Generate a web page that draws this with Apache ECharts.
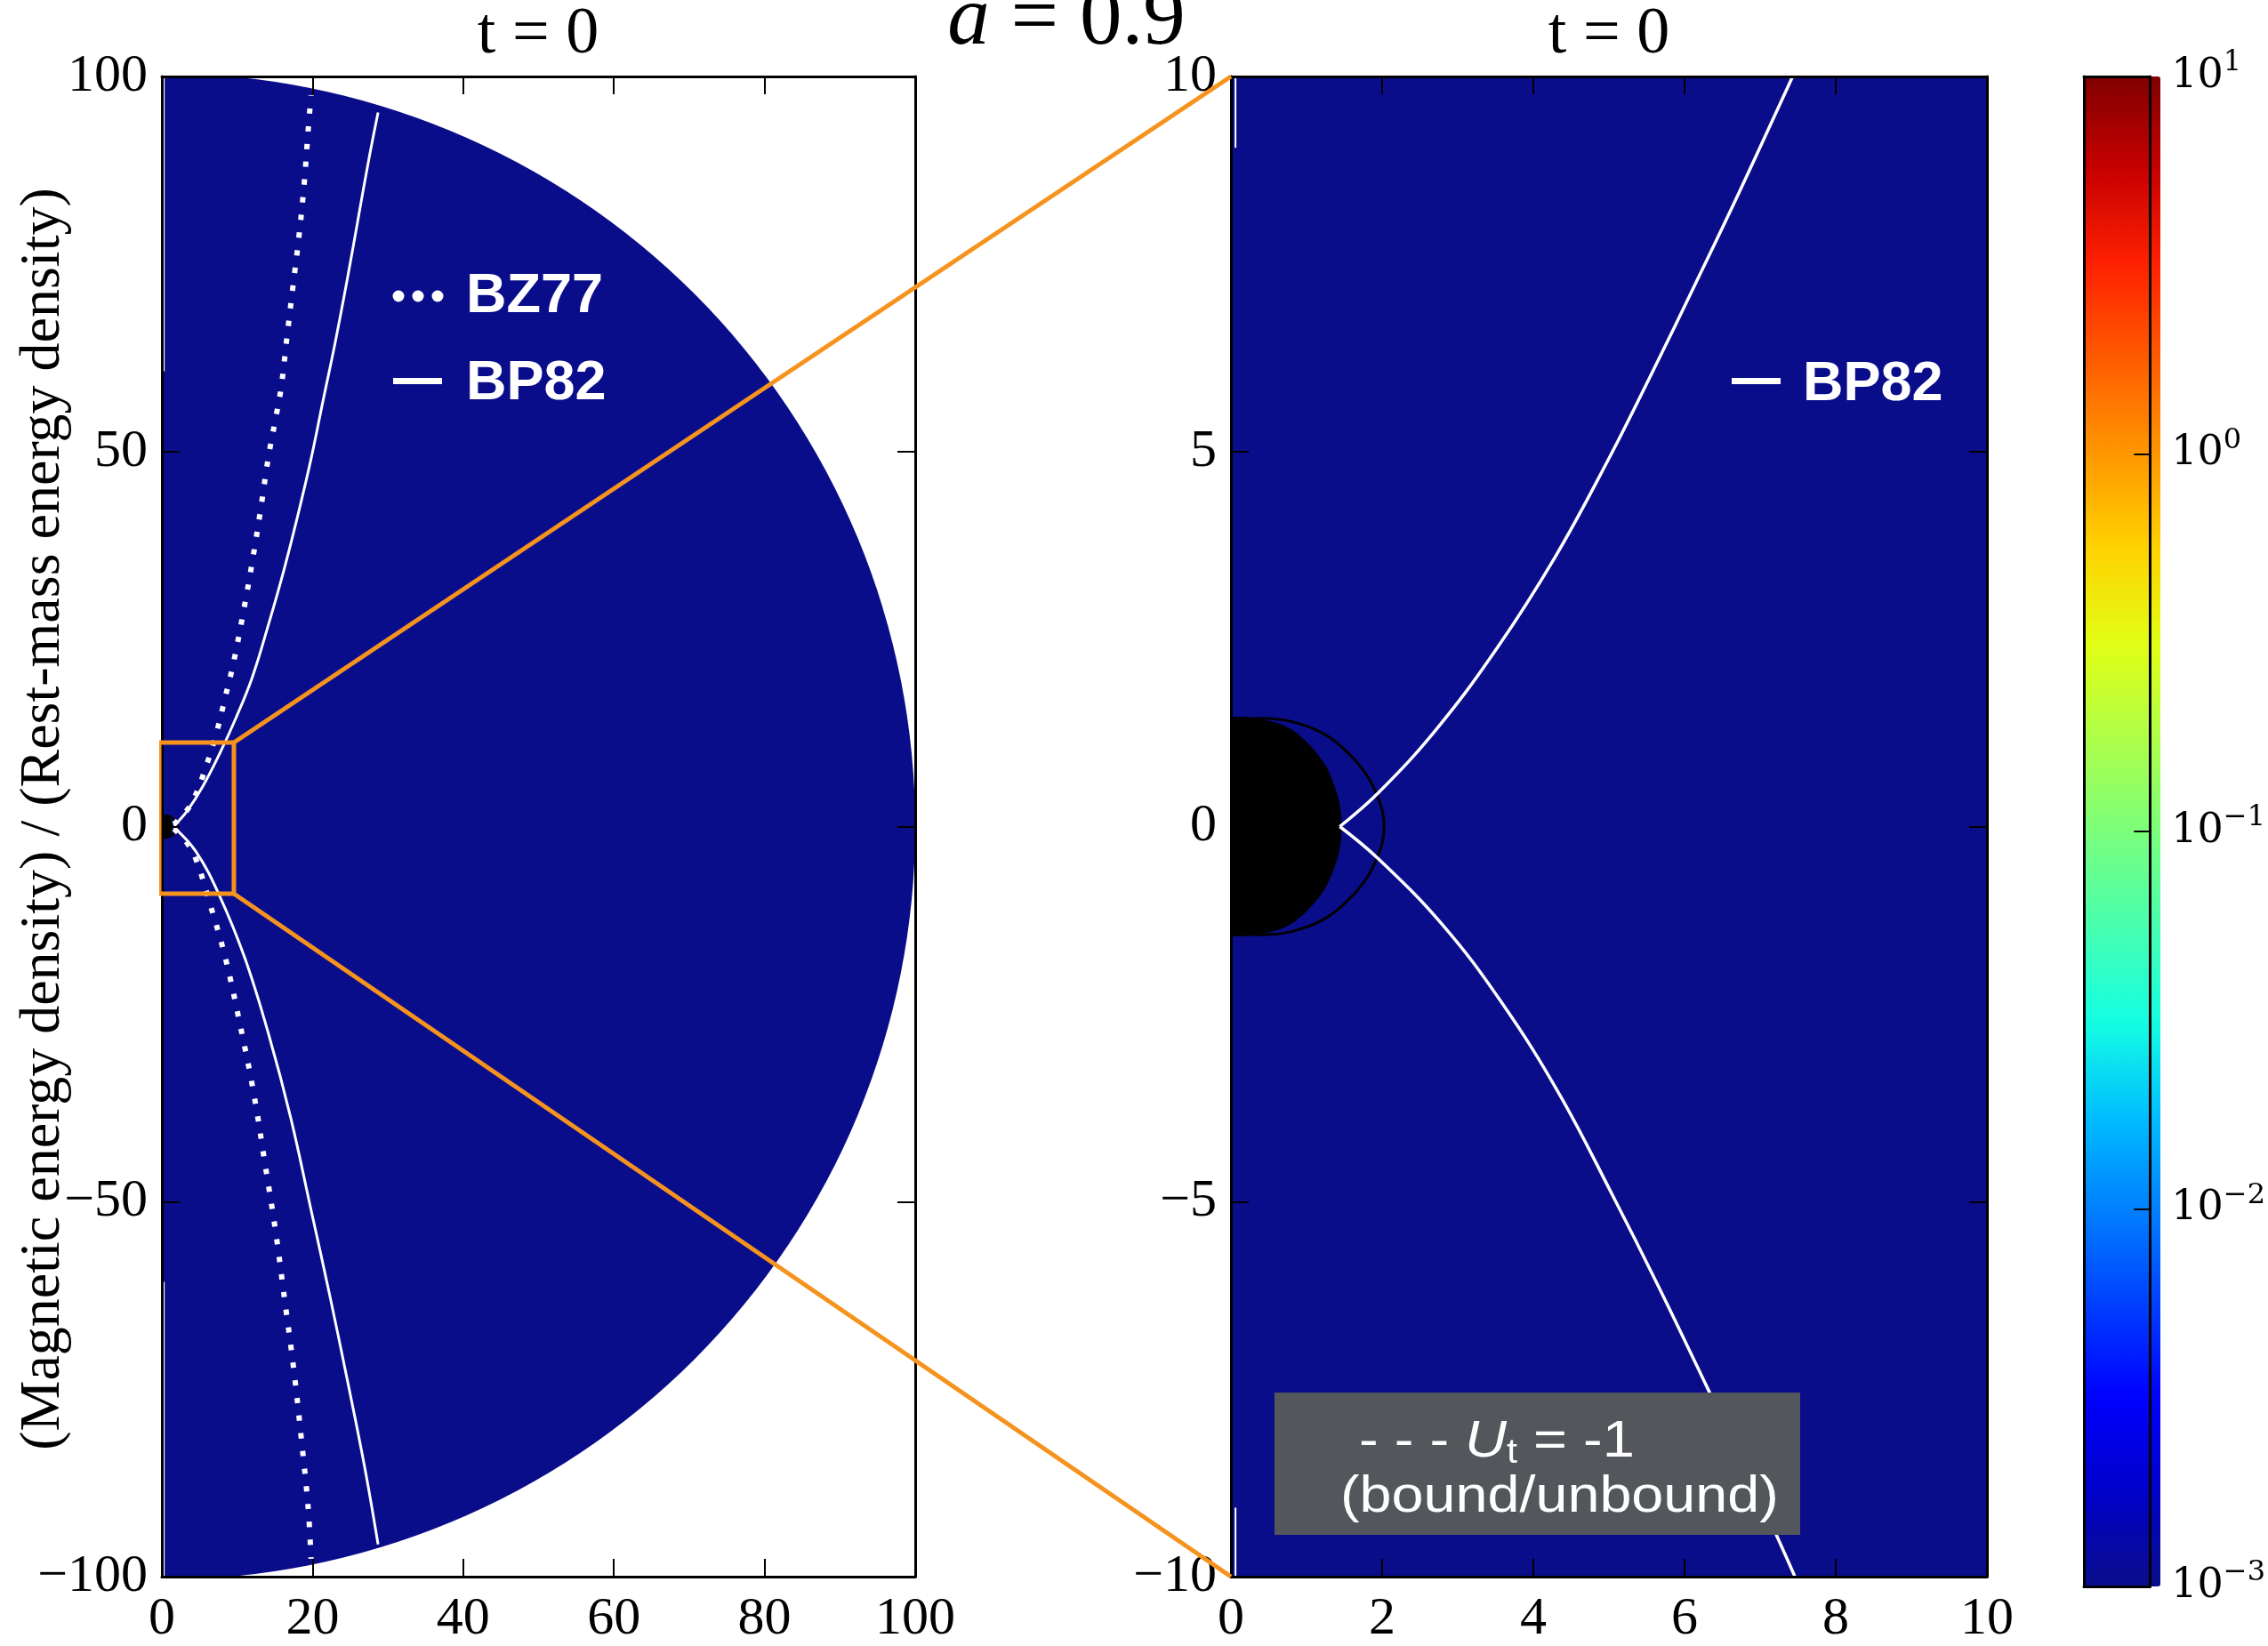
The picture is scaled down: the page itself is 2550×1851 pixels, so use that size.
<!DOCTYPE html>
<html><head><meta charset="utf-8">
<script src="https://cdn.jsdelivr.net/npm/echarts@6/dist/echarts.min.js"></script>
<style>html,body{margin:0;padding:0;background:#fff}#c{width:2550px;height:1851px}</style>
</head><body><div id="c"></div>
<script>
// ---------------- data ----------------
const titleMain = 'a = 0.9';
const panelTitles = ['t = 0', 't = 0'];
const yAxisTitle = '(Magnetic energy density) / (Rest-mass energy density)';
const legendLeft = ['BZ77', 'BP82'];
const legendRight = ['BP82'];
const boxLine1 = ['- - - ', 'U', 't', ' = -1'];
const boxLine2 = '(bound/unbound)';

// simulation domain: [outer radius, log10(value)]
const domainLeft = [[100, -3]];
const domainRight = [[100, -3]];
const colorbarTicks = [-3, -2, -1, 0, 1];

// BZ77 paraboloidal field line (left panel, dotted)
const bz77Upper = [[1.6,0.3],[3.2,2.0],[4.3,3.8],[5.9,8.1],[7.3,12.7],[8.4,17.2],[9.5,21.8],[10.8,28.5],[12.0,35.3],[13.1,42.2],[14.1,49.0],[15.0,53.9],[15.8,58.3],[16.6,65.2],[17.4,72.0],[18.2,78.7],[18.9,85.8],[19.4,92.6],[19.8,97.5]];
const bz77Lower = [[1.6,-0.3],[3.2,-2.0],[4.5,-4.3],[6.5,-10.7],[8.4,-17.4],[10.4,-26.5],[12.2,-35.6],[13.7,-45.0],[15.1,-54.0],[16.3,-63.1],[17.5,-72.3],[18.5,-81.5],[19.4,-90.6],[19.8,-97.6]];
// BP82 field line (left panel)
const bp82LeftUpper = [[1.6,0.1],[3.3,2.0],[5.4,5.3],[7.8,10.0],[9.8,14.4],[12.0,19.9],[14.2,27.1],[16.2,34.2],[18.0,41.3],[19.8,49.0],[21.4,56.8],[23.0,64.5],[24.6,72.9],[26.1,81.3],[27.5,89.1],[28.7,95.2]];
const bp82LeftLower = [[1.6,-0.1],[4.5,-3.3],[7.6,-9.1],[11.0,-17.5],[14.2,-27.8],[17.1,-38.8],[19.8,-51.1],[22.2,-62.1],[24.6,-73.7],[26.9,-85.3],[28.7,-95.7]];
// BP82 field line (right panel, zoom)
const bp82RightUpper = [[1.44,0.0],[1.95,0.45],[2.72,1.3],[3.52,2.38],[4.28,3.58],[4.98,4.87],[5.57,6.05],[6.15,7.25],[6.72,8.45],[7.43,10.0]];
const bp82RightLower = [[1.44,0.0],[1.95,-0.43],[2.79,-1.30],[3.57,-2.33],[4.34,-3.56],[5.05,-4.92],[5.66,-6.14],[6.31,-7.5],[6.95,-8.86],[7.46,-10.0]];
// black region inside the horizon
const horizonFill = [[0,1.433],[0.385,1.433],[0.65,1.37],[0.83,1.276],[0.99,1.14],[1.12,1.0],[1.25,0.82],[1.345,0.61],[1.41,0.42],[1.44,0.29],[1.46,0.14],[1.465,0],[1.46,-0.14],[1.44,-0.29],[1.41,-0.42],[1.345,-0.61],[1.25,-0.82],[1.12,-1.0],[0.99,-1.14],[0.83,-1.276],[0.65,-1.37],[0.385,-1.433],[0,-1.433]];
// ergosphere outline
const ergosphere = [[0,1.436],[0.2,1.44],[0.387,1.443],[0.80,1.40],[1.22,1.24],[1.55,0.98],[1.78,0.71],[1.92,0.45],[2.0,0.22],[2.026,0],[2.0,-0.22],[1.92,-0.45],[1.78,-0.71],[1.55,-0.98],[1.22,-1.24],[0.80,-1.40],[0.387,-1.443],[0.2,-1.44],[0,-1.436]];
// zoom box drawn on the left panel and the corners it maps to on the right panel
const zoomBox = [[-0.35,11.2],[9.56,11.2],[9.56,-8.95],[-0.35,-8.95],[-0.35,11.2]];
const zoomTargets = [[0,10],[0,-10]];
// thin white gaps along the axis
const gapsLeft = [[[0.25,100],[0.25,60.7]],[[0.25,-60.7],[0.25,-100]]];
const gapsRight = [[[0.06,10],[0.06,9.05]],[[0.06,-9.08],[0.06,-10]]];

// jet colormap
const JET = ['#0a0d8a','#0000c8','#0000ff','#0040ff','#0080ff','#00bfff','#15ffe2','#48ffaf','#7bff7b','#afff48','#e2ff15','#ffd200','#ff9700','#ff5c00','#ff2100','#c80000','#800000'];

// ---------------- chart ----------------
const chart = echarts.init(document.getElementById('c'), null, {renderer:'canvas'});
const SERIF = 'Liberation Serif';
const SANS = 'Liberation Sans';
const ORANGE = '#f5931e';
const minus = v => (v < 0 ? '\u2212' + Math.abs(v) : String(v));

const G = [
  {left:182, top:86, width:847, height:1698},
  {left:1384, top:86, width:850, height:1698},
  {left:2343, top:86, width:86, height:1698}
];

function frameAxis(base, opts){
  return Object.assign({
    type:'value', z:5,
    axisLine:{show:true, onZero:false, lineStyle:{color:'#000', width:3}},
    axisTick:{show:true, inside:true, length:20, lineStyle:{color:'#000', width:2}},
    splitLine:{show:false},
    axisLabel:{show:false}
  }, base, opts || {});
}
const labelStyle = {show:true, fontFamily:SERIF, fontSize:60, color:'#000', formatter:minus, showMinLabel:true, showMaxLabel:true};

const xAxis = [
  frameAxis({gridIndex:0, min:0, max:100, interval:20, position:'bottom', axisLabel:Object.assign({margin:18}, labelStyle)}),
  frameAxis({gridIndex:0, min:0, max:100, interval:20, position:'top'}),
  frameAxis({gridIndex:1, min:0, max:10, interval:2, position:'bottom', axisLabel:Object.assign({margin:18}, labelStyle)}),
  frameAxis({gridIndex:1, min:0, max:10, interval:2, position:'top'}),
  frameAxis({gridIndex:2, min:0, max:1, position:'bottom', axisTick:{show:false}}),
  frameAxis({gridIndex:2, min:0, max:1, position:'top', axisTick:{show:false}})
];
const yAxis = [
  frameAxis({gridIndex:0, min:-100, max:100, interval:50, position:'left', axisLabel:Object.assign({margin:16}, labelStyle)}),
  frameAxis({gridIndex:0, min:-100, max:100, interval:50, position:'right'}),
  frameAxis({gridIndex:1, min:-10, max:10, interval:5, position:'left', axisLabel:Object.assign({margin:16}, labelStyle)}),
  frameAxis({gridIndex:1, min:-10, max:10, interval:5, position:'right'}),
  frameAxis({gridIndex:2, min:-3, max:1, interval:1, position:'left', axisTick:{show:false}}),
  frameAxis({gridIndex:2, min:colorbarTicks[0], max:colorbarTicks[colorbarTicks.length-1], interval:1, position:'right',
    axisTick:{show:true, inside:true, length:18, lineStyle:{color:'#000', width:2}},
    axisLabel:{show:true, margin:24, showMinLabel:true, showMaxLabel:true,
      formatter: v => '{b|10}{s|' + (v < 0 ? '\u2212' + Math.abs(v) : v) + '}',
      rich:{
        b:{fontFamily:'DejaVu Serif', fontSize:46, lineHeight:62, color:'#000'},
        s:{fontFamily:'DejaVu Serif', fontSize:32, lineHeight:32, verticalAlign:'top', color:'#000'}
      }}})
];

function renderDomain(params, api){
  const c = api.coord([0,0]);
  const e = api.coord([api.value(0),0]);
  return {type:'sector', shape:{cx:c[0], cy:c[1], r0:0, r:e[0]-c[0], startAngle:-Math.PI/2, endAngle:Math.PI/2, clockwise:true},
    style:{fill:api.visual('color')}};
}
function polyRenderer(points, fill){
  return function(params, api){
    return {type:'polygon', shape:{points:points.map(p => api.coord(p)), smooth:0.2}, style:{fill:fill}};
  };
}
function lineSeries(ax, data, color, width, extra){
  return Object.assign({type:'line', xAxisIndex:ax, yAxisIndex:ax, data:data, symbol:'none', showSymbol:false,
    smooth:0.4, clip:true, silent:true, z:4, lineStyle:{color:color, width:width}}, extra || {});
}

const series = [
  {type:'custom', xAxisIndex:0, yAxisIndex:0, data:domainLeft, renderItem:renderDomain, clip:true, z:1, silent:true},
  {type:'custom', xAxisIndex:2, yAxisIndex:2, data:domainRight, renderItem:renderDomain, clip:true, z:1, silent:true},
  // left panel
  {type:'custom', xAxisIndex:0, yAxisIndex:0, data:[0], renderItem:polyRenderer(horizonFill,'#000'), clip:true, z:3, silent:true},
  lineSeries(0, ergosphere, '#000', 3, {z:3}),
  lineSeries(0, gapsLeft[0], '#fff', 2, {smooth:false}),
  lineSeries(0, gapsLeft[1], '#fff', 2, {smooth:false}),
  lineSeries(0, bz77Upper, '#fff', 6, {lineStyle:{color:'#fff', width:6, type:[6,14], cap:'butt'}}),
  lineSeries(0, bz77Lower, '#fff', 6, {lineStyle:{color:'#fff', width:6, type:[6,14], cap:'butt'}}),
  lineSeries(0, bp82LeftUpper, '#fff', 3),
  lineSeries(0, bp82LeftLower, '#fff', 3),
  lineSeries(0, zoomBox, ORANGE, 5, {smooth:false, clip:false, z:10}),
  // right panel
  {type:'custom', xAxisIndex:2, yAxisIndex:2, data:[0], renderItem:polyRenderer(horizonFill,'#000'), clip:true, z:3, silent:true},
  lineSeries(2, ergosphere, '#000', 3, {z:3}),
  lineSeries(2, gapsRight[0], '#fff', 2, {smooth:false}),
  lineSeries(2, gapsRight[1], '#fff', 2, {smooth:false}),
  lineSeries(2, bp82RightUpper, '#fff', 3.5),
  lineSeries(2, bp82RightLower, '#fff', 3.5)
];

chart.setOption({
  backgroundColor:'#fff',
  animation:false,
  grid:G,
  xAxis:xAxis,
  yAxis:yAxis,
  visualMap:{type:'continuous', min:-3, max:1, dimension:1, seriesIndex:[0,1], inRange:{color:JET},
    left:2343, top:86, itemWidth:86, itemHeight:1698, padding:0, calculable:false, hoverLink:false, text:null, z:2},
  series:series
});

function txt(x, y, text, font, extra){
  return {type:'text', x:x, y:y, z:100, silent:true, style:Object.assign({text:text, font:font, fill:'#000',
    align:'center', verticalAlign:'middle', textAlign:'center', textVerticalAlign:'middle'}, extra || {})};
}
const c0 = chart.convertToPixel({gridIndex:0}, [zoomBox[1][0], zoomBox[1][1]]);
const c1 = chart.convertToPixel({gridIndex:0}, [zoomBox[2][0], zoomBox[2][1]]);
const t0 = chart.convertToPixel({gridIndex:1}, zoomTargets[0]);
const t1 = chart.convertToPixel({gridIndex:1}, zoomTargets[1]);

const graphic = [
  // main title (partially cut at top)
  txt(1199, 24, '{i|a}{r| = 0.9}', '95px "' + SERIF + '"', {rich:{
    i:{fontFamily:SERIF, fontSize:95, fontStyle:'italic', fill:'#000'},
    r:{fontFamily:SERIF, fontSize:95, fill:'#000'}}}),
  txt(605, 40, panelTitles[0], '74px "' + SERIF + '"'),
  txt(1809, 40, panelTitles[1], '74px "' + SERIF + '"'),
  Object.assign(txt(49, 921, yAxisTitle, '64px "' + SERIF + '"'), {rotation:Math.PI/2}),
  // left legend
  {type:'circle', z:100, silent:true, shape:{cx:448, cy:333, r:6.5}, style:{fill:'#fff'}},
  {type:'circle', z:100, silent:true, shape:{cx:470, cy:333, r:6.5}, style:{fill:'#fff'}},
  {type:'circle', z:100, silent:true, shape:{cx:492, cy:333, r:6.5}, style:{fill:'#fff'}},
  txt(524, 334, legendLeft[0], 'bold 63px "' + SANS + '"', {fill:'#fff', align:'left', textAlign:'left'}),
  {type:'rect', z:100, silent:true, shape:{x:442, y:425, width:55, height:7}, style:{fill:'#fff'}},
  txt(524, 432, legendLeft[1], 'bold 63px "' + SANS + '"', {fill:'#fff', align:'left', textAlign:'left'}),
  // right legend
  {type:'rect', z:100, silent:true, shape:{x:1947, y:425, width:55, height:7}, style:{fill:'#fff'}},
  txt(2027, 433, legendRight[0], 'bold 63px "' + SANS + '"', {fill:'#fff', align:'left', textAlign:'left'}),
  // gray annotation box
  {type:'rect', z:90, silent:true, shape:{x:1433, y:1566, width:591, height:160}, style:{fill:'#53575c'}},
  Object.assign(txt(1528, 1622, '{a|' + boxLine1[0] + '}{u|' + boxLine1[1] + '}{s|' + boxLine1[2] + '}{a|' + boxLine1[3] + '}', '57px "' + SANS + '"', {
    fill:'#fff', align:'left', textAlign:'left', rich:{
      a:{fontFamily:SANS, fontSize:57, lineHeight:64, fill:'#fff'},
      u:{fontFamily:SANS, fontSize:57, lineHeight:64, fontStyle:'italic', fill:'#fff'},
      s:{fontFamily:SANS, fontSize:38, lineHeight:44, verticalAlign:'bottom', fill:'#fff'}}}), {scaleX:1.14}),
  Object.assign(txt(1507, 1684, boxLine2, '57px "' + SANS + '"', {fill:'#fff', align:'left', textAlign:'left'}), {scaleX:1.135}),
  // zoom connectors
  {type:'line', z:110, silent:true, shape:{x1:c0[0], y1:c0[1], x2:t0[0], y2:t0[1]}, style:{stroke:ORANGE, lineWidth:5}},
  {type:'line', z:110, silent:true, shape:{x1:c1[0], y1:c1[1], x2:t1[0], y2:t1[1]}, style:{stroke:ORANGE, lineWidth:5}}
];
chart.setOption({graphic:graphic});
</script></body></html>
